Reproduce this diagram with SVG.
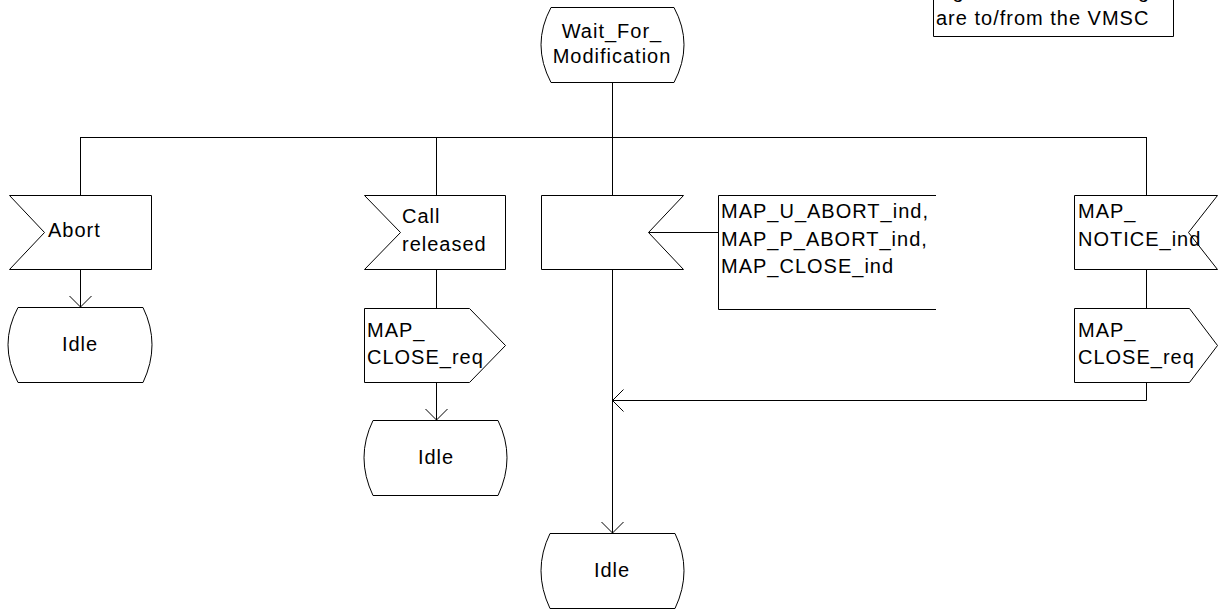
<svg xmlns="http://www.w3.org/2000/svg" width="1219" height="610" viewBox="0 0 1219 610">
<style>
.s{fill:#fff;stroke:#000;stroke-width:1}
.c{fill:none;stroke:#000;stroke-width:1}
.t{font-family:"Liberation Sans",Arial,sans-serif;font-size:20px;letter-spacing:1px;fill:#000}
.m{text-anchor:middle}
</style>
<defs>
<marker id="arr" markerWidth="24" markerHeight="24" refX="12" refY="12" orient="auto" markerUnits="userSpaceOnUse">
<path d="M1,1 L12,12 L1,23" fill="none" stroke="#000" stroke-width="1"/>
</marker>
</defs>
<g id="note">
<path class="c" d="M933.5,0 V36.5 H1173.5 V0"/>
<text class="t" x="936" y="-2">signals to/from the right</text>
<text class="t" x="936" y="25">are to/from the VMSC</text>
</g>
<g id="connectors">
<line class="c" x1="612.5" y1="82" x2="612.5" y2="137" stroke-width="2"/>
<line class="c" x1="80.5" y1="137.5" x2="1146.5" y2="137.5"/>
<line class="c" x1="80.5" y1="137" x2="80.5" y2="195"/>
<line class="c" x1="436.5" y1="137" x2="436.5" y2="195"/>
<line class="c" x1="612.5" y1="137" x2="612.5" y2="195"/>
<line class="c" x1="1146.5" y1="137" x2="1146.5" y2="195"/>
<line class="c" x1="80.5" y1="269" x2="80.5" y2="307" marker-end="url(#arr)"/>
<line class="c" x1="436.5" y1="269" x2="436.5" y2="308"/>
<line class="c" x1="436.5" y1="382" x2="436.5" y2="420" marker-end="url(#arr)"/>
<line class="c" x1="612.5" y1="269" x2="612.5" y2="400"/>
<line class="c" x1="612.5" y1="400" x2="612.5" y2="533" stroke-width="2" marker-end="url(#arr)"/>
<line class="c" x1="648" y1="232.5" x2="718" y2="232.5"/>
<line class="c" x1="1146.5" y1="269" x2="1146.5" y2="308"/>
<polyline class="c" points="1146.5,382 1146.5,400.5 612.5,400.5" marker-end="url(#arr)"/>
</g>
<g id="wait_for_modification">
<path class="s" d="M551,7.5 H674 Q694,44.5 674,82.5 H551 Q531,44.5 551,7.5 Z"/>
<text class="t m" x="612" y="38">Wait_For_</text>
<text class="t m" x="612" y="63">Modification</text>
</g>
<g id="abort">
<path class="s" d="M9.5,195.5 H151.5 V269.5 H9.5 L44.5,232.5 Z"/>
<text class="t" x="48" y="237">Abort</text>
</g>
<g id="idle_left">
<path class="s" d="M18,307.5 H143 Q161,344.5 143,382.5 H18 Q-2,344.5 18,307.5 Z"/>
<text class="t m" x="80" y="351">Idle</text>
</g>
<g id="call_released">
<path class="s" d="M364.5,195.5 H505.5 V269.5 H364.5 L400.5,232.5 Z"/>
<text class="t" x="402" y="223">Call</text>
<text class="t" x="402" y="251">released</text>
</g>
<g id="map_close_req_1">
<path class="s" d="M364.5,308.5 H469.5 L505.5,345.5 L469.5,382.5 H364.5 Z"/>
<text class="t" x="367" y="337">MAP_</text>
<text class="t" x="367" y="364">CLOSE_req</text>
</g>
<g id="idle_middle">
<path class="s" d="M373,420.5 H498 Q516,457.5 498,495.5 H373 Q355,457.5 373,420.5 Z"/>
<text class="t m" x="436" y="464">Idle</text>
</g>
<g id="abort_inputs">
<path class="s" d="M541.5,195.5 H683.5 L648.5,232.5 L683.5,269.5 H541.5 Z"/>
</g>
<g id="abort_inputs_text">
<path class="c" d="M936,195.5 H718.5 V309.5 H936"/>
<text class="t" x="721" y="218">MAP_U_ABORT_ind,</text>
<text class="t" x="721" y="246">MAP_P_ABORT_ind,</text>
<text class="t" x="721" y="273">MAP_CLOSE_ind</text>
</g>
<g id="map_notice_ind">
<path class="s" d="M1074.5,195.5 H1217.5 L1188.5,232.5 L1217.5,269.5 H1074.5 Z"/>
<text class="t" x="1078" y="218">MAP_</text>
<text class="t" x="1078" y="246">NOTICE_ind</text>
</g>
<g id="map_close_req_2">
<path class="s" d="M1074.5,308.5 H1189.5 L1217.5,345.5 L1189.5,382.5 H1074.5 Z"/>
<text class="t" x="1078" y="337">MAP_</text>
<text class="t" x="1078" y="364">CLOSE_req</text>
</g>
<g id="idle_bottom">
<path class="s" d="M550,533.5 H675 Q693,570.5 675,608.5 H550 Q532,570.5 550,533.5 Z"/>
<text class="t m" x="612" y="577">Idle</text>
</g>
</svg>
